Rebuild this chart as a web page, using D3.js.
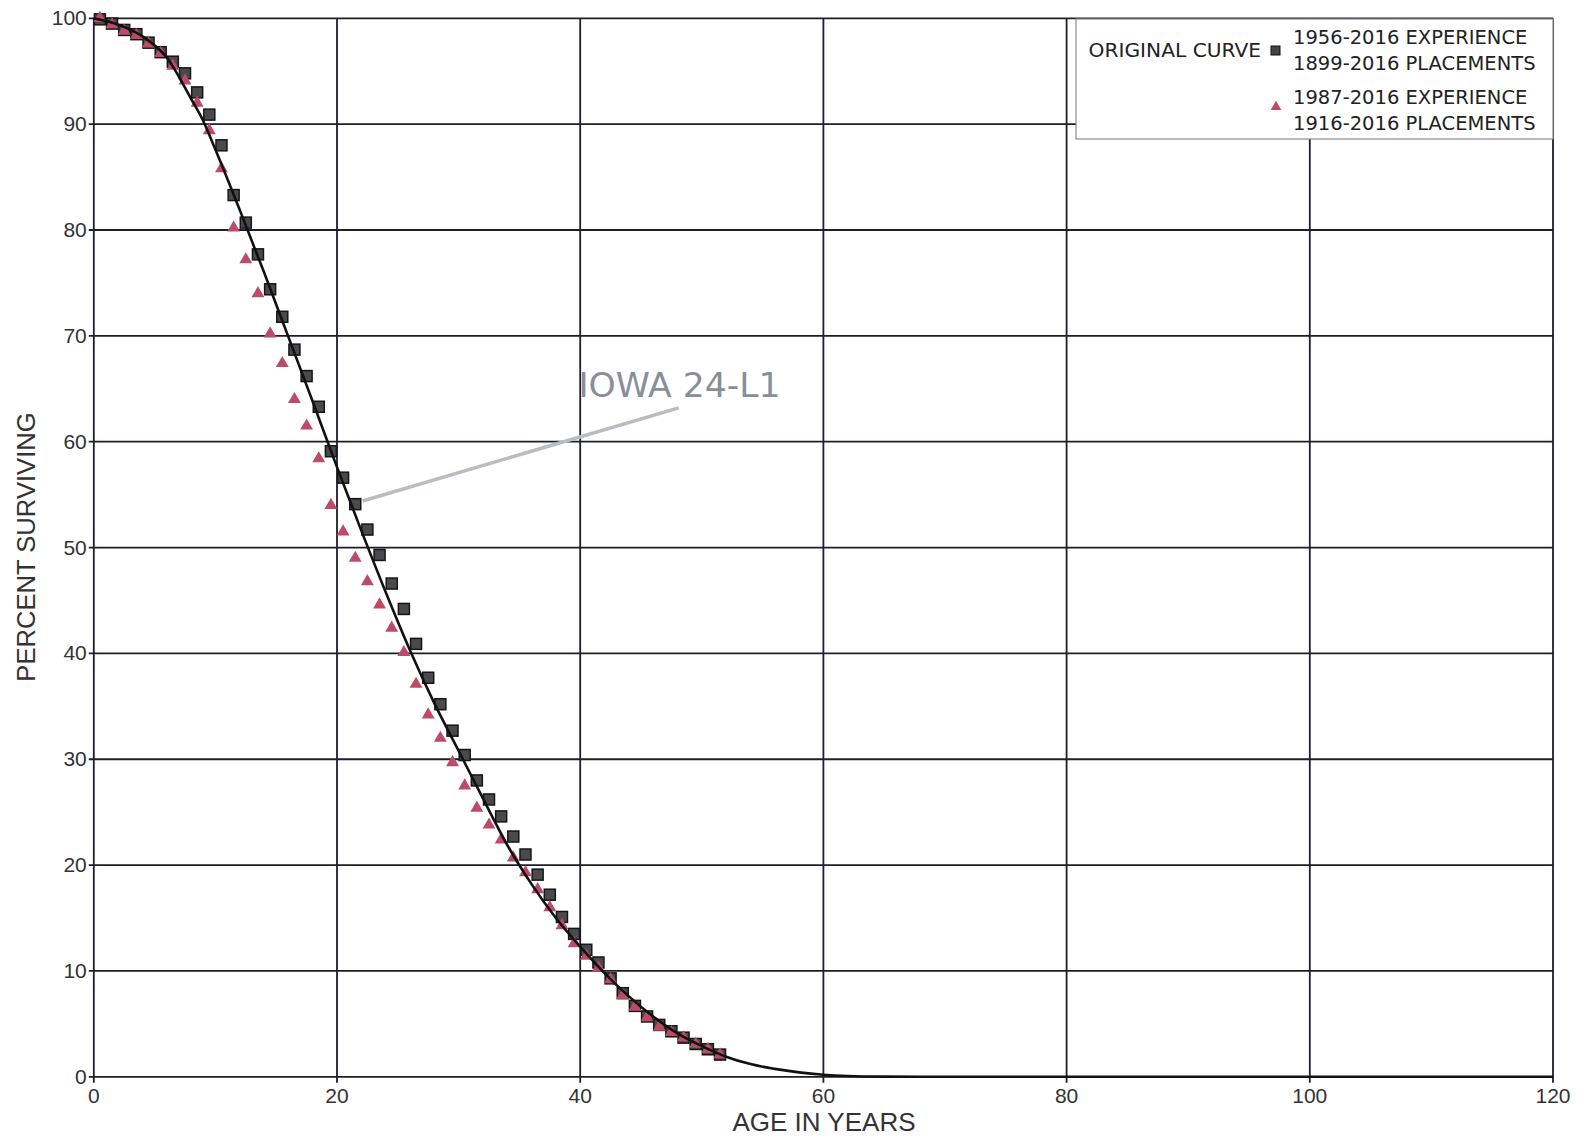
<!DOCTYPE html>
<html>
<head>
<meta charset="utf-8">
<script src="https://cdn.jsdelivr.net/npm/d3@7"></script>
<style>
  body { margin: 0; background: #fff; }
  svg { display: block; }
</style>
</head>
<body>
<script>
// observed points, ages 0.5 .. 51.5
var ages = [0.5,1.5,2.5,3.5,4.5,5.5,6.5,7.5,8.5,9.5,10.5,11.5,12.5,13.5,14.5,15.5,16.5,17.5,18.5,19.5,
            20.5,21.5,22.5,23.5,24.5,25.5,26.5,27.5,28.5,29.5,30.5,31.5,32.5,33.5,34.5,35.5,36.5,37.5,38.5,39.5,
            40.5,41.5,42.5,43.5,44.5,45.5,46.5,47.5,48.5,49.5,50.5,51.5];

// 1956-2016 experience / 1899-2016 placements (squares)
var squareVals = [99.9,99.5,98.9,98.5,97.7,96.8,95.9,94.8,93.0,90.9,88.0,83.3,80.7,77.7,74.4,71.8,68.7,66.2,63.3,59.1,
                  56.6,54.1,51.7,49.3,46.6,44.2,40.9,37.7,35.2,32.7,30.4,28.0,26.2,24.6,22.7,21.0,19.1,17.2,15.1,13.5,
                  12.0,10.8,9.3,7.9,6.7,5.7,4.9,4.3,3.7,3.1,2.6,2.1];

// 1987-2016 experience / 1916-2016 placements (triangles)
var triangleVals = [100.0,99.4,98.8,98.4,97.6,96.7,95.5,94.1,92.0,89.4,85.8,80.2,77.2,74.0,70.2,67.4,64.0,61.5,58.4,54.0,
                    51.5,49.0,46.8,44.6,42.4,40.1,37.1,34.2,32.0,29.7,27.5,25.4,23.8,22.4,20.7,19.3,17.7,16.0,14.3,12.6,
                    11.4,10.3,9.2,7.7,6.6,5.6,4.7,4.2,3.7,3.1,2.6,2.1];

// Iowa 24-L1 curve
var curveAges = [0,2,4,6,8,9,10,12,14,16,18,20,22,24,26,28,30,32,34,36,38,40,42,44,46,48,50,52,54,56,58,60,62,65,70,120];
var curveVals = [100,99.4,98.3,96.3,92.4,90.3,87.6,81.9,76.0,69.9,63.8,57.6,51.6,45.8,40.3,35.3,30.8,26.3,21.9,18.2,15.0,12.3,9.8,7.6,5.7,4.1,2.9,1.9,1.2,0.75,0.42,0.2,0.08,0.02,0,0];

var xTicks = [0,20,40,60,80,100,120];
var yTicks = [0,10,20,30,40,50,60,70,80,90,100];

var legendLines = ["1956-2016 EXPERIENCE","1899-2016 PLACEMENTS","1987-2016 EXPERIENCE","1916-2016 PLACEMENTS"];

var W = 1581, H = 1137;
var plotL = 93.8, plotT = 18.3, plotR = 1553, plotB = 1076.8;

var svg = d3.select("body").append("svg").attr("width", W).attr("height", H);

var x = d3.scaleLinear().domain([0,120]).range([plotL,plotR]);
var y = d3.scaleLinear().domain([0,100]).range([plotB,plotT]);

var gridColor = "#1e1e2c";

// grid
svg.append("g").selectAll("line")
    .data(yTicks)
    .enter().append("line")
        .attr("x1", plotL - 5).attr("x2", plotR)
        .attr("y1", function(d){ return y(d); }).attr("y2", function(d){ return y(d); })
        .attr("stroke", gridColor).attr("stroke-width", 1.8);

svg.append("g").selectAll("line")
    .data(xTicks)
    .enter().append("line")
        .attr("x1", function(d){ return x(d); }).attr("x2", function(d){ return x(d); })
        .attr("y1", plotT).attr("y2", plotB + 6)
        .attr("stroke", gridColor).attr("stroke-width", 1.8);

// tick labels
svg.append("g").selectAll("text")
    .data(yTicks)
    .enter().append("text")
        .attr("x", plotL - 7)
        .attr("y", function(d){ return y(d) + 7; })
        .attr("text-anchor", "end")
        .attr("font-family", "Liberation Sans, Arial, sans-serif")
        .attr("font-size", 21)
        .attr("fill", "#333")
        .text(function(d){ return d; });

svg.append("g").selectAll("text")
    .data(xTicks)
    .enter().append("text")
        .attr("x", function(d){ return x(d); })
        .attr("y", plotB + 26)
        .attr("text-anchor", "middle")
        .attr("font-family", "Liberation Sans, Arial, sans-serif")
        .attr("font-size", 21)
        .attr("fill", "#333")
        .text(function(d){ return d; });

// axis titles
svg.append("text")
    .attr("x", 824).attr("y", 1131)
    .attr("text-anchor", "middle")
    .attr("font-family", "Liberation Sans, Arial, sans-serif")
    .attr("font-size", 26)
    .attr("fill", "#333")
    .text("AGE IN YEARS");

svg.append("text")
    .attr("transform", "translate(35,547) rotate(-90)")
    .attr("text-anchor", "middle")
    .attr("font-family", "Liberation Sans, Arial, sans-serif")
    .attr("font-size", 25.6)
    .attr("fill", "#333")
    .text("PERCENT SURVIVING");

// legend box (covers the grid)
svg.append("rect")
    .attr("x", 1076).attr("y", 19).attr("width", 477).attr("height", 120)
    .attr("fill", "#fff").attr("stroke", "#8a8a8a").attr("stroke-width", 1.2);

svg.append("text")
    .attr("x", 1261).attr("y", 57)
    .attr("text-anchor", "end")
    .attr("font-family", "DejaVu Sans, Verdana, sans-serif")
    .attr("font-size", 20.2)
    .attr("fill", "#222")
    .text("ORIGINAL CURVE");

svg.append("g").selectAll("text")
    .data(legendLines)
    .enter().append("text")
        .attr("x", 1293)
        .attr("y", function(d,i){ return [44,70,104,130][i]; })
        .attr("font-family", "DejaVu Sans, Verdana, sans-serif")
        .attr("font-size", 19.5)
        .attr("fill", "#222")
        .text(function(d){ return d; });

svg.append("rect")
    .attr("x", 1271).attr("y", 46).attr("width", 9).attr("height", 9)
    .attr("fill", "#444").attr("stroke", "#111").attr("stroke-width", 1);

svg.append("path")
    .attr("d", d3.symbol().type(d3.symbolTriangle).size(50)())
    .attr("transform", "translate(1276,107)")
    .attr("fill", "#c04a6a");

// squares
svg.append("g").selectAll("rect")
    .data(ages)
    .enter().append("rect")
        .attr("x", function(d){ return x(d) - 5.5; })
        .attr("y", function(d,i){ return y(squareVals[i]) - 5.5; })
        .attr("width", 11).attr("height", 11)
        .attr("fill", "#4a4a4e")
        .attr("stroke", "#161616")
        .attr("stroke-width", 1.5);

// triangles
svg.append("g").selectAll("path")
    .data(ages)
    .enter().append("path")
        .attr("d", d3.symbol().type(d3.symbolTriangle).size(72)())
        .attr("transform", function(d,i){ return "translate(" + x(d) + "," + y(triangleVals[i]) + ")"; })
        .attr("fill", "#bd4a69");

// Iowa curve
var line = d3.line()
    .x(function(d){ return x(d); })
    .y(function(d,i){ return y(curveVals[i]); })
    .curve(d3.curveMonotoneX);

svg.append("path")
    .attr("d", line(curveAges))
    .attr("fill", "none")
    .attr("stroke", "#111")
    .attr("stroke-width", 2.6);

// annotation
svg.append("line")
    .attr("x1", x(22.1)).attr("y1", y(54.4))
    .attr("x2", x(48.1)).attr("y2", y(63.2))
    .attr("stroke", "#b9bcc4").attr("stroke-width", 3.5);

svg.append("text")
    .attr("x", x(39.85)).attr("y", 397)
    .attr("font-family", "DejaVu Sans, Verdana, sans-serif")
    .attr("font-size", 34.6)
    .attr("fill", "#8a8e99")
    .text("IOWA 24-L1");
</script>
</body>
</html>
